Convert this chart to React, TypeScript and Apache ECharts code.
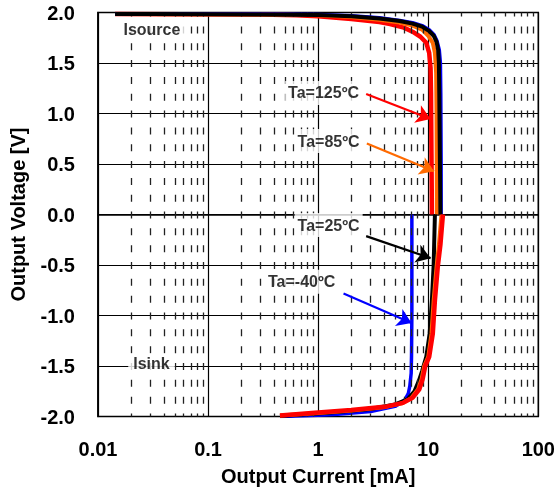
import React, { useEffect, useRef } from "react";
import * as echarts from "echarts";

// ---- data: [current mA, voltage V] ----
const srcRed125: number[][] = [[0.0143,1.985],[0.3,1.98],[0.64,1.972],[1,1.962],[2,1.935],[3.6,1.905],[4.5,1.885],[6,1.85],[7.2,1.81],[8.5,1.76],[9.6,1.7],[10.2,1.6],[10.5,1.45],[10.6,1.2],[10.7,0.6],[10.8,0.0]];
const srcOrange85: number[][] = [[0.0143,1.985],[0.5,1.978],[1,1.972],[2,1.955],[3.6,1.928],[5.5,1.9],[7.2,1.87],[8.8,1.83],[10,1.77],[11,1.7],[11.5,1.6],[11.8,1.4],[11.9,1.0],[11.95,0.5],[12.0,0.0]];
const srcBlackM25: number[][] = [[0.0143,1.985],[0.03,1.984],[0.1,1.982],[0.3,1.979],[1,1.975],[2,1.962],[3.6,1.94],[5.5,1.915],[7.2,1.89],[8.8,1.86],[10.2,1.815],[11.2,1.77],[11.9,1.71],[12.3,1.63],[12.5,1.5],[12.6,1.2],[12.7,0.8],[12.8,0.4],[12.9,0.0]];
const srcBlueM40: number[][] = [[0.0143,1.988],[0.25,1.986],[1,1.981],[2,1.968],[3.6,1.947],[5.5,1.922],[7.2,1.9],[8.8,1.87],[10.2,1.83],[11.3,1.78],[12,1.72],[12.6,1.63],[12.9,1.5],[13.0,1.2],[13.1,0.5],[13.1,0.0]];

const sinkBlueM40: number[][] = [[7.1,0],[7.1,-0.5],[7.1,-1.0],[7.05,-1.4],[7.0,-1.57],[6.8,-1.7],[6.6,-1.77],[6.1,-1.84],[5,-1.9],[3,-1.95],[1.5,-1.978],[1,-1.988],[0.45,-2.0]];
const sinkBlack25: number[][] = [[11.5,0],[11.2,-0.5],[10.8,-0.85],[10.3,-1.18],[9.6,-1.41],[8.8,-1.55],[8.2,-1.65],[7.5,-1.75],[6.5,-1.83],[5,-1.88],[3,-1.925],[1.5,-1.955],[1,-1.97],[0.45,-1.995]];
const sinkOrange85: number[][] = [[13.2,0],[12.5,-0.3],[11.9,-0.52],[11.2,-0.85],[10.7,-1.18],[10.0,-1.41],[9.2,-1.5],[8.7,-1.63],[8.1,-1.73],[7.0,-1.82],[5.8,-1.87],[4.1,-1.905],[2,-1.94],[1,-1.965],[0.45,-1.99]];
const sinkRed125: number[][] = [[13.6,0],[12.9,-0.3],[12.2,-0.52],[11.5,-0.85],[11.0,-1.18],[10.2,-1.41],[9.4,-1.5],[8.9,-1.63],[8.3,-1.73],[7.2,-1.815],[5.9,-1.865],[4.2,-1.9],[2,-1.935],[1,-1.96],[0.45,-1.99]];

// annotation texts [mA, V, text]
const tempLabels: (number | string)[][] = [
  [1.12, 1.203, "Ta=125ºC"],
  [1.245, 0.727, "Ta=85ºC"],
  [1.245, -0.105, "Ta=25ºC"],
  [0.708, -0.667, "Ta=-40ºC"],
];
const regionLabels: (number | string)[][] = [
  [0.0309, 1.827, "Isource"],
  [0.0306, -1.475, "Isink"],
];
// arrows [from, to]
const arrow125 = [[2.73, 1.193], [10.5, 0.945]];
const arrow85 = [[2.77, 0.704], [11.3, 0.428]];
const arrow25 = [[2.73, -0.214], [10.5, -0.432]];
const arrowM40 = [[1.7, -0.782], [7.05, -1.075]];

const xTickValues = [0.01, 0.1, 1, 10, 100];
const minorMultipliers = [2, 3, 4, 5, 6, 7, 8, 9];
const yMin = -2, yMax = 2, yStep = 0.5;

const RED = "#ff0000", ORANGE = "#ff6a00", BLACK = "#000000", BLUE = "#0000ff";
const FONT = "Liberation Sans";

export default function App() {
  const ref = useRef<HTMLDivElement>(null);
  useEffect(() => {
    if (!ref.current) return;
    const chart = echarts.init(ref.current, undefined, { renderer: "svg" });
    const minorX: number[] = [];
    for (let d = 0; d < xTickValues.length - 1; d++) {
      for (const m of minorMultipliers) minorX.push(+(xTickValues[d] * m).toPrecision(3));
    }
    const arrowLine = (a: number[][], color: string) => ({
      silent: true,
      symbol: ["none", "arrow"],
      symbolSize: 14,
      label: { show: false },
      lineStyle: { color, width: 2.2, type: "solid" },
      itemStyle: { color },
      emphasis: { disabled: true },
      data: [[{ coord: a[0] }, { coord: a[1] }]],
    });
    const curve = (name: string, data: number[][], color: string, z: number, width = 4, ml?: any) => ({
      name,
      type: "line",
      data,
      showSymbol: false,
      symbol: "none",
      z,
      lineStyle: { color, width },
      itemStyle: { color },
      emphasis: { disabled: true },
      silent: true,
      markLine: ml,
    });
    const option: any = {
      animation: false,
      grid: { left: 98, right: 19, top: 12.5, bottom: 75.5, show: true, borderColor: "#000", borderWidth: 1.5, backgroundColor: "#fff" },
      xAxis: {
        type: "log",
        logBase: 10,
        min: 0.01,
        max: 100,
        name: "Output Current [mA]",
        nameLocation: "middle",
        nameGap: 49,
        nameTextStyle: { fontFamily: FONT, fontWeight: "bold", fontSize: 20, color: "#000" },
        axisLine: { show: true, lineStyle: { color: "#000", width: 1.5 } },
        axisTick: { show: false },
        axisLabel: {
          margin: 22,
          fontFamily: FONT, fontWeight: "bold", fontSize: 20, color: "#000",
          formatter: (v: number) => String(+v.toPrecision(3)),
        },
        splitLine: { show: true, lineStyle: { color: "#000", width: 1.2 } },
      },
      yAxis: {
        type: "value",
        min: yMin,
        max: yMax,
        interval: yStep,
        name: "Output Voltage [V]",
        nameLocation: "middle",
        nameGap: 70,
        nameTextStyle: { fontFamily: FONT, fontWeight: "bold", fontSize: 20, color: "#000" },
        axisLine: { show: true, lineStyle: { color: "#000", width: 1.5 } },
        axisTick: { show: false },
        axisLabel: {
          margin: 23,
          fontFamily: FONT, fontWeight: "bold", fontSize: 20, color: "#000",
          formatter: (v: number) => v.toFixed(1),
        },
        splitLine: { show: true, lineStyle: { color: "#000", width: 1.2 } },
      },
      series: [
        {
          name: "minorGrid",
          type: "line",
          data: [[0.01, -2]],
          symbol: "none",
          lineStyle: { width: 0 },
          z: 1,
          silent: true,
          markLine: {
            silent: true,
            symbol: ["none", "none"],
            label: { show: false },
            emphasis: { disabled: true },
            lineStyle: { color: "#222", width: 1.3, type: [7, 9.83], dashOffset: 3.5 },
            data: minorX.map((x) => ({ xAxis: x })),
          },
        },
        curve("125 source", srcRed125, RED, 3, 4.5),
        curve("85 source", srcOrange85, ORANGE, 4, 4),
        curve("-40 source", srcBlueM40, BLUE, 5, 3.5),
        curve("25 source", srcBlackM25, BLACK, 6, 4),
        curve("-40 sink", sinkBlueM40, BLUE, 3, 3.5, arrowLine(arrowM40, BLUE)),
        curve("25 sink", sinkBlack25, BLACK, 4, 4, arrowLine(arrow25, BLACK)),
        curve("85 sink", sinkOrange85, ORANGE, 5, 4, arrowLine(arrow85, ORANGE)),
        curve("125 sink", sinkRed125, RED, 6, 4.5, arrowLine(arrow125, RED)),
        {
          name: "temps",
          type: "scatter",
          data: tempLabels,
          symbolSize: 0,
          z: 20,
          silent: true,
          label: {
            show: true,
            position: "inside",
            formatter: (p: any) => p.data[2],
            fontFamily: FONT, fontWeight: "bold", fontSize: 16, color: "#000",
            backgroundColor: "#fff",
            padding: [4, 3],
          },
        },
        {
          name: "regions",
          type: "scatter",
          data: regionLabels,
          symbolSize: 0,
          z: 20,
          silent: true,
          label: {
            show: true,
            position: "inside",
            formatter: (p: any) => p.data[2],
            fontFamily: FONT, fontWeight: "bold", fontSize: 16, color: "#000",
            backgroundColor: "#fff",
            padding: [2, 5],
          },
        },
      ],
    };
    chart.setOption(option);
    return () => chart.dispose();
  }, []);
  return <div ref={ref} style={{ position: "fixed", left: 0, top: 0, width: 558, height: 492 }} />;
}
